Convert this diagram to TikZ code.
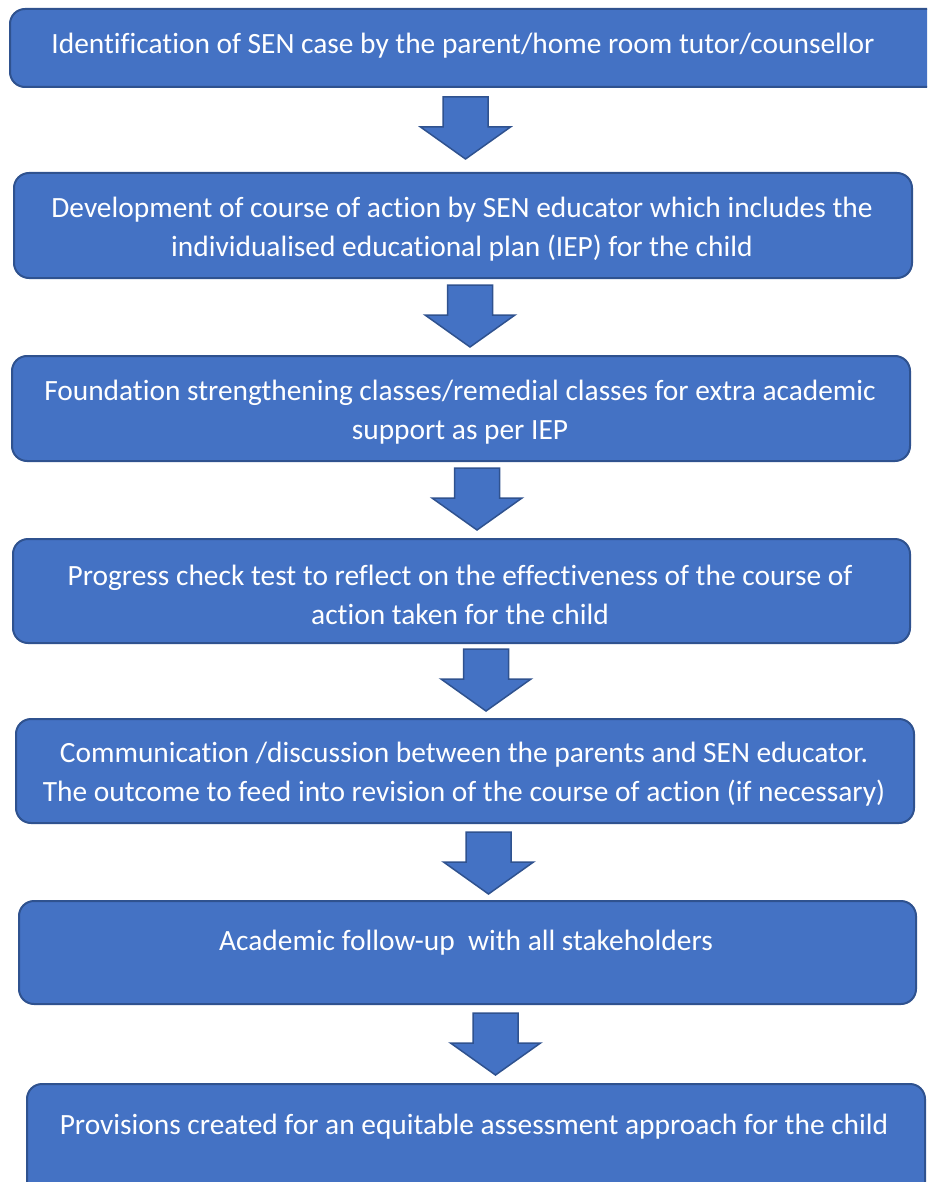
\documentclass[tikz,border=0pt]{standalone}
\usepackage{fontspec}
\setmainfont{Carlito}[Ligatures=NoCommon]
\definecolor{boxfill}{HTML}{4472C4}
\definecolor{boxline}{HTML}{2F528F}
\begin{document}
\begin{tikzpicture}[x=1pt,y=-1pt,
  stagebox/.style={draw=boxline,fill=boxfill,line width=2pt,rounded corners=15pt,
    inner sep=0pt,anchor=north west},
  stagetext/.style={text=white,align=center,font=\fontsize{29.4}{39}\selectfont,inner sep=0pt},
  blockarrow/.pic={
    \draw[draw=boxline,fill=boxfill,line width=1.5pt,line join=miter]
      (-22.5,0) -- (22.5,0) -- (22.5,30) -- (45,30) -- (0,62) -- (-45,30) -- (-22.5,30) -- cycle;
  }]
\useasboundingbox (0,0) rectangle (927,1182);
\clip (0,0) rectangle (927,1182);

% stage boxes
\node[stagebox,minimum width=935pt,minimum height=78pt]  (b1) at (9,8) {};
\node[stagebox,minimum width=898pt,minimum height=105pt] (b2) at (13,172) {};
\node[stagebox,minimum width=898pt,minimum height=105pt] (b3) at (11,355) {};
\node[stagebox,minimum width=897pt,minimum height=104pt] (b4) at (12,538) {};
\node[stagebox,minimum width=898pt,minimum height=104pt] (b5) at (15,718) {};
\node[stagebox,minimum width=897pt,minimum height=103pt] (b6) at (18,900) {};
\node[stagebox,minimum width=898pt,minimum height=115pt] (b7) at (26,1083) {};

% stage texts
\node[stagetext] (t1) at (463,46) {Identification of SEN case by the parent/home room tutor/counsellor};
\node[stagetext] (t2) at (462,229) {Development of course of action by SEN educator which includes the\\individualised educational plan (IEP) for the child};
\node[stagetext] (t3) at (460,412) {Foundation strengthening classes/remedial classes for extra academic\\support as per IEP};
\node[stagetext] (t4) at (460,595) {Progress check test to reflect on the effectiveness of the course of\\action taken for the child};
\node[stagetext] (t5) at (464,774) {Communication /discussion between the parents and SEN educator.\\The outcome to feed into revision of the course of action (if necessary)};
\node[stagetext] (t6) at (466,943) {Academic follow-up\ \ with all stakeholders};
\node[stagetext] (t7) at (474,1127) {Provisions created for an equitable assessment approach for the child};

% block arrows between stages
\pic at (465.5,97) {blockarrow};
\pic at (470,285) {blockarrow};
\pic at (477,468) {blockarrow};
\pic at (486,649) {blockarrow};
\pic at (488.5,832) {blockarrow};
\pic at (495.5,1013) {blockarrow};
\end{tikzpicture}
\end{document}
